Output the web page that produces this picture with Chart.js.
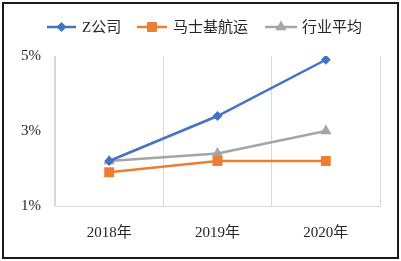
<!DOCTYPE html>
<html>
<head>
<meta charset="utf-8">
<script src="https://cdn.jsdelivr.net/npm/chart.js@4.4.1/dist/chart.umd.min.js"></script>
<style>
html,body{margin:0;padding:0;background:#fff;}
#wrap{position:relative;width:401px;height:261px;}
</style>
</head>
<body>
<div id="wrap"><canvas id="c" width="401" height="261"></canvas></div>
<script>
const categories = ['2018年', '2019年', '2020年'];
const seriesNames = ['Z公司', '马士基航运', '行业平均'];
const zCompany = [2.2, 3.4, 4.9];
const maersk = [1.9, 2.2, 2.2];
const industryAvg = [2.2, 2.4, 3.0];
const yTicks = [1, 3, 5];

const FONT = "'Liberation Serif', 'Noto Sans CJK SC', serif";
const colors = ['#4472C4', '#ED7D31', '#A5A5A5'];
const styles = ['rectRot', 'rect', 'triangle'];
const radii = [5, 7, 6.5];

function marker(ctx, style, x, y, r, color) {
  ctx.save();
  ctx.fillStyle = color;
  ctx.beginPath();
  if (style === 'rectRot') {
    ctx.moveTo(x - r, y); ctx.lineTo(x, y - r); ctx.lineTo(x + r, y); ctx.lineTo(x, y + r);
  } else if (style === 'rect') {
    const s = Math.SQRT1_2 * r;
    ctx.rect(x - s, y - s, 2 * s, 2 * s);
  } else {
    const w = Math.sqrt(3) * r / 2;
    ctx.moveTo(x, y - r); ctx.lineTo(x + w, y + r / 2); ctx.lineTo(x - w, y + r / 2);
  }
  ctx.closePath();
  ctx.fill();
  ctx.restore();
}

const legendPlugin = {
  id: 'customLegend',
  afterDraw(chart) {
    const ctx = chart.ctx;
    const items = [
      {x0: 47, x1: 76, tx: 82},
      {x0: 137, x1: 167, tx: 173},
      {x0: 265, x1: 297, tx: 302}
    ];
    const y = 27;
    chart.data.datasets.forEach((ds, i) => {
      const it = items[i];
      ctx.save();
      ctx.strokeStyle = ds.borderColor;
      ctx.lineWidth = 2.5;
      ctx.beginPath();
      ctx.moveTo(it.x0, y); ctx.lineTo(it.x1, y);
      ctx.stroke();
      marker(ctx, styles[i], (it.x0 + it.x1) / 2, y, radii[i], ds.borderColor);
      ctx.fillStyle = '#262626';
      ctx.font = '15px ' + FONT;
      ctx.textBaseline = 'middle';
      ctx.textAlign = 'left';
      ctx.fillText(ds.label, it.tx, y + 1);
      ctx.restore();
    });
    ctx.save();
    ctx.strokeStyle = '#1a1a1a';
    ctx.lineWidth = 2;
    ctx.strokeRect(3, 3, 395, 255);
    ctx.restore();
  }
};

const values = [zCompany, maersk, industryAvg];
const datasets = seriesNames.map((name, i) => ({
  label: name,
  data: values[i],
  borderColor: colors[i],
  backgroundColor: colors[i],
  borderWidth: 2.5,
  pointStyle: styles[i],
  pointRadius: radii[i],
  pointHoverRadius: radii[i],
  pointBorderWidth: 0,
  tension: 0,
  fill: false
}));

new Chart(document.getElementById('c'), {
  type: 'line',
  data: { labels: categories, datasets: datasets },
  options: {
    responsive: false,
    animation: false,
    layout: { padding: { left: 0, right: 21, top: 56, bottom: 0 } },
    plugins: { legend: { display: false }, tooltip: { enabled: false } },
    scales: {
      x: {
        offset: true,
        grid: { display: true, color: '#d9d9d9', lineWidth: 1, drawTicks: false, offset: true },
        border: { display: true, color: '#d9d9d9', width: 1 },
        ticks: { color: '#262626', font: { family: FONT, size: 15 }, padding: 18 },
        afterFit(s) { s.height = 55; }
      },
      y: {
        min: 1, max: 5,
        afterBuildTicks(s) { s.ticks = yTicks.map(v => ({ value: v })); },
        grid: { display: false, drawTicks: false },
        border: { display: true, color: '#d9d9d9', width: 1 },
        ticks: { color: '#262626', font: { family: FONT, size: 15 }, padding: 14,
                 callback: v => v + '%' },
        afterFit(s) { s.width = 55; }
      }
    }
  },
  plugins: [legendPlugin]
});
</script>
</body>
</html>
